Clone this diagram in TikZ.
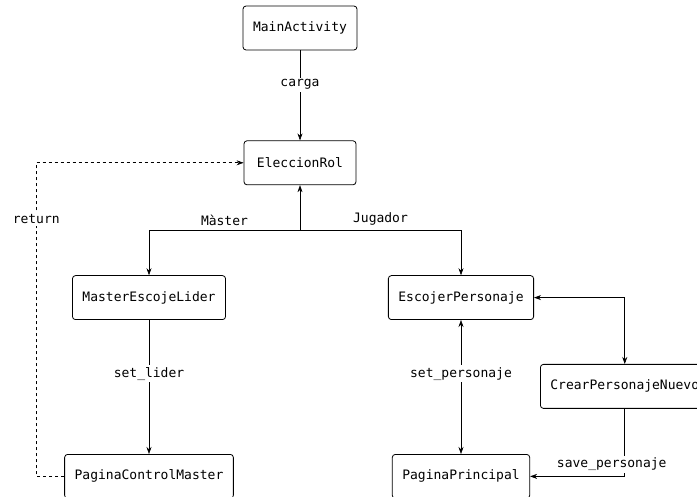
\documentclass[tikz,border=0pt]{standalone}
\usepackage{fontspec}
\setmonofont{DejaVu Sans Mono}
\usepackage{tikz}
\usetikzlibrary{positioning, arrows.meta}

\begin{document}
\begin{tikzpicture}[
  x=1pt, y=-1pt,
  font=\ttfamily\fontsize{13}{15}\selectfont,
  screen/.style={draw, rounded corners=3pt, minimum width=112pt,
    minimum height=44pt, inner xsep=10pt, align=center, thick},
  arrow/.style={-{Stealth[length=7pt, width=5pt]}, semithick},
  arrows2/.style={{Stealth[length=7pt, width=5pt]}-{Stealth[length=7pt, width=5pt]}, semithick},
  lbl/.style={fill=white, inner sep=2pt},
]
  \path[use as bounding box, fill=white] (0,0) rectangle (697,497);

  \node[screen] (main) at (300,28) {MainActivity};
  \node[screen, below=90pt of main]  (eleccion) {EleccionRol};
  \coordinate[below=45pt of eleccion.south] (split);
  \node[screen, below=90pt of eleccion, xshift=-151pt] (lider) {MasterEscojeLider};
  \node[screen, below=90pt of eleccion, xshift=161pt] (escojer) {EscojerPersonaje};
  \node[screen, below=134pt of lider]   (control)   {PaginaControlMaster};
  \node[screen, below=134pt of escojer] (principal) {PaginaPrincipal};
  \node[screen, below right=44pt and 6pt of escojer] (crear) {CrearPersonajeNuevo};

  \draw[arrow] (main) -- node[lbl, pos=0.38] {carga} (eleccion);
  \draw[arrow] (split) -- (eleccion);
  \draw[arrow] (split) -| node[pos=0.25, above=1pt] {Màster} (lider);
  \draw[arrow] (split) -| node[pos=0.25, above=1pt] {Jugador} (escojer);
  \draw[arrow] (lider) -- node[lbl, pos=0.4] {set\_lider} (control);
  \draw[arrows2] (escojer) -- node[lbl, pos=0.4] {set\_personaje} (principal);
  \draw[arrows2] (escojer.east) -| (crear.north);
  \draw[arrow] (crear.south) |- node[lbl, pos=0.5, xshift=-13pt, yshift=12pt] {save\_personaje} (principal.east);
  \draw[arrow, dash pattern=on 3pt off 3pt] (control.west) -- ++(-28,0)
    |- node[lbl, pos=0.41] {return} (eleccion.west);
\end{tikzpicture}
\end{document}
